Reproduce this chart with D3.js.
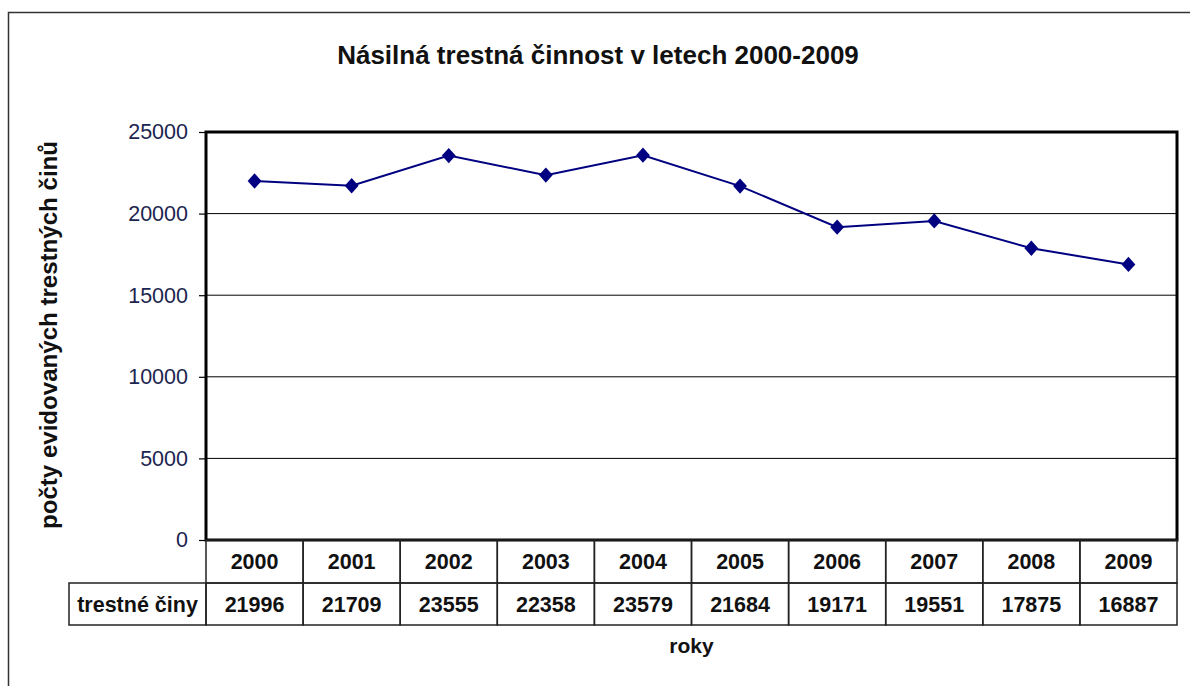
<!DOCTYPE html>
<html>
<head>
<meta charset="utf-8">
<script src="https://cdn.jsdelivr.net/npm/d3@7"></script>
<style>
  body { margin: 0; background: #fff; }
  svg { display: block; font-family: "Liberation Sans", Arial, sans-serif; }
</style>
</head>
<body>
<svg id="chart" width="1190" height="686"></svg>
<script>
// data
const years = ["2000", "2001", "2002", "2003", "2004", "2005", "2006", "2007", "2008", "2009"];
const crimes = [21996, 21709, 23555, 22358, 23579, 21684, 19171, 19551, 17875, 16887];
const yTicks = [0, 5000, 10000, 15000, 20000, 25000];
const seriesName = "trestné činy";

const svg = d3.select("#chart");

// outer frame (runs off the right and bottom edge)
svg.append("rect")
  .attr("x", 8.5).attr("y", 12.5)
  .attr("width", 1200).attr("height", 700)
  .attr("fill", "none").attr("stroke", "#333").attr("stroke-width", 1.5);

const plotL = 206, plotR = 1177, plotT = 132, plotB = 540;

const x = d3.scaleBand().domain(years).range([plotL, plotR]);
const y = d3.scaleLinear().domain([0, 25000]).range([plotB, plotT]);

// title
svg.append("text")
  .attr("x", 598).attr("y", 64)
  .attr("text-anchor", "middle")
  .style("font-size", "26px").style("font-weight", "bold")
  .attr("fill", "#111")
  .text("Násilná trestná činnost v letech 2000-2009");

// grid lines
svg.append("g").selectAll("line")
  .data(yTicks.slice(1, -1))
  .join("line")
  .attr("x1", plotL).attr("x2", plotR)
  .attr("y1", d => y(d)).attr("y2", d => y(d))
  .attr("stroke", "#000").attr("stroke-width", 1);

// y axis
const yAxis = svg.append("g")
  .attr("transform", `translate(${plotL},0)`)
  .call(d3.axisLeft(y).tickValues(yTicks).tickSize(7).tickPadding(11).tickFormat(d3.format("d")));
yAxis.select(".domain").remove();
yAxis.selectAll(".tick line").attr("stroke", "#000").attr("stroke-width", 1.2);
yAxis.selectAll(".tick text")
  .attr("fill", "#1c2550")
  .style("font-size", "21.5px")
  .style("font-family", "'Liberation Sans', Arial, sans-serif");

// plot border
svg.append("rect")
  .attr("x", plotL).attr("y", plotT)
  .attr("width", plotR - plotL).attr("height", plotB - plotT)
  .attr("fill", "none").attr("stroke", "#000").attr("stroke-width", 3);

// y axis title
svg.append("text")
  .attr("transform", `translate(57,${(plotT + plotB) / 2 - 1}) rotate(-90)`)
  .attr("text-anchor", "middle")
  .attr("textLength", 388)
  .attr("lengthAdjust", "spacingAndGlyphs")
  .style("font-size", "23px").style("font-weight", "bold")
  .attr("fill", "#111")
  .text("počty evidovaných trestných činů");

// line + markers
const line = d3.line()
  .x((d, i) => x(years[i]) + x.bandwidth() / 2)
  .y(d => y(d));

svg.append("path")
  .datum(crimes)
  .attr("d", line)
  .attr("fill", "none")
  .attr("stroke", "#000080")
  .attr("stroke-width", 2);

svg.append("g").selectAll("path")
  .data(crimes)
  .join("path")
  .attr("d", d3.symbol(d3.symbolDiamond2, 150)())
  .attr("transform", (d, i) => `translate(${x(years[i]) + x.bandwidth() / 2},${y(d)}) scale(0.9,1)`)
  .attr("fill", "#000080");

// data table
const rowH1 = 43, rowH2 = 42;
const labelLeft = 69;
const table = svg.append("g").attr("fill", "none").attr("stroke", "#222").attr("stroke-width", 1.5);

years.forEach(yr => {
  table.append("rect")
    .attr("x", x(yr)).attr("y", plotB)
    .attr("width", x.bandwidth()).attr("height", rowH1);
  table.append("rect")
    .attr("x", x(yr)).attr("y", plotB + rowH1)
    .attr("width", x.bandwidth()).attr("height", rowH2);
});
table.append("rect")
  .attr("x", labelLeft).attr("y", plotB + rowH1)
  .attr("width", plotL - labelLeft).attr("height", rowH2);

svg.append("g").selectAll("text")
  .data(years)
  .join("text")
  .attr("x", d => x(d) + x.bandwidth() / 2)
  .attr("y", plotB + 29)
  .attr("text-anchor", "middle")
  .style("font-size", "21.5px").style("font-weight", "bold")
  .attr("fill", "#111")
  .text(d => d);

svg.append("g").selectAll("text")
  .data(crimes)
  .join("text")
  .attr("x", (d, i) => x(years[i]) + x.bandwidth() / 2)
  .attr("y", plotB + rowH1 + 29)
  .attr("text-anchor", "middle")
  .style("font-size", "21.5px").style("font-weight", "bold")
  .attr("fill", "#111")
  .text(d => d);

svg.append("text")
  .attr("x", (labelLeft + plotL) / 2)
  .attr("y", plotB + rowH1 + 29)
  .attr("text-anchor", "middle")
  .style("font-size", "21.5px").style("font-weight", "bold")
  .attr("fill", "#111")
  .text(seriesName);

// x axis title
svg.append("text")
  .attr("x", (plotL + plotR) / 2).attr("y", 653)
  .attr("text-anchor", "middle")
  .style("font-size", "21px").style("font-weight", "bold")
  .attr("fill", "#111")
  .text("roky");
</script>
</body>
</html>
